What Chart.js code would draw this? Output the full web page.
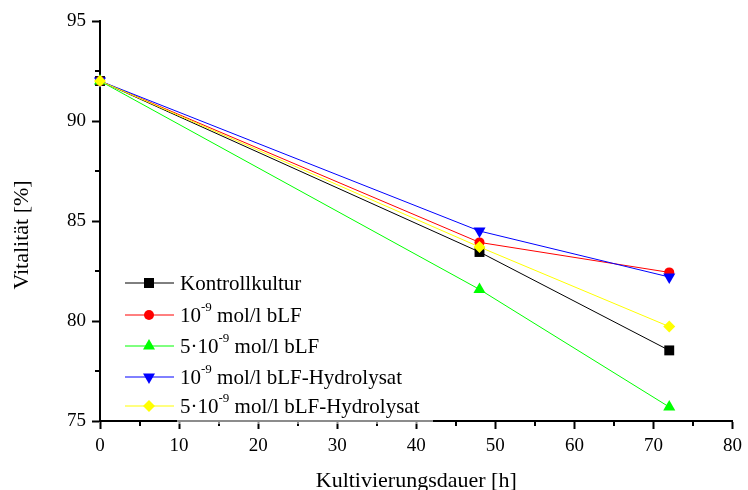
<!DOCTYPE html>
<html>
<head>
<meta charset="utf-8">
<script src="https://cdn.jsdelivr.net/npm/chart.js@4"></script>
<style>
  html, body { margin: 0; padding: 0; background: #fff; }
  #wrap { position: relative; width: 748px; height: 490px; }
  #legend { position: absolute; left: 0; top: 0; width: 748px; height: 490px; pointer-events: none;
    font-family: "Liberation Serif", "Times New Roman", serif; font-size: 21px; color: #000; }
  #legend .bg { position: absolute; left: 177px; top: 268px; width: 256px; height: 156px; background: rgba(255,255,255,0.55); }
  #legend .row { position: absolute; left: 125px; height: 24px; line-height: 24px; white-space: nowrap; }
  #legend svg { position: absolute; left: 0; top: 0; }
  #legend .txt { position: absolute; left: 55px; top: 0; }
  #legend sup { font-size: 13px; position: relative; top: -3px; vertical-align: top; line-height: 1; }
</style>
</head>
<body>
<div id="wrap">
  <canvas id="chart" width="748" height="490"></canvas>
  <div id="legend"><div class="bg"></div></div>
</div>
<script>
const hours = [0, 48, 72];
const kontroll = [92, 83.45, 78.53];
const blf = [92, 83.93, 82.43];
const blf5 = [92, 81.58, 75.7];
const hydro = [92, 84.5, 82.2];
const hydro5 = [92, 83.7, 79.72];

const xTicks = [0, 10, 20, 30, 40, 50, 60, 70, 80];
const xMinor = [5, 15, 25, 35, 45, 55, 65, 75];
const yTicks = [75, 80, 85, 90, 95];
const yMinor = [77.5, 82.5, 87.5, 92.5];

const serif = '"Liberation Serif", "Times New Roman", serif';

const series = [
  { name: 'Kontrollkultur', sup: null, data: kontroll, color: '#000000', style: 'rect', radius: 7, rotation: 0 },
  { name: ' mol/l bLF', pre: '10', sup: '-9', data: blf, color: '#ff0000', style: 'circle', radius: 5, rotation: 0 },
  { name: ' mol/l bLF', pre: '5\u00b710', sup: '-9', data: blf5, color: '#00ff00', style: 'triangle', radius: 7, rotation: 0 },
  { name: ' mol/l bLF-Hydrolysat', pre: '10', sup: '-9', data: hydro, color: '#0000ff', style: 'triangle', radius: 7, rotation: 180 },
  { name: ' mol/l bLF-Hydrolysat', pre: '5\u00b710', sup: '-9', data: hydro5, color: '#ffff00', style: 'rectRot', radius: 6, rotation: 0 }
];

// minor ticks and axis titles
const extras = {
  id: 'extras',
  afterDraw(chart) {
    const { ctx, chartArea, scales } = chart;
    ctx.save();
    ctx.strokeStyle = '#000';
    ctx.lineWidth = 2;
    ctx.beginPath();
    xMinor.forEach(v => {
      const px = Math.round(scales.x.getPixelForValue(v));
      ctx.moveTo(px, chartArea.bottom);
      ctx.lineTo(px, chartArea.bottom + 5);
    });
    yMinor.forEach(v => {
      const py = Math.round(scales.y.getPixelForValue(v));
      ctx.moveTo(chartArea.left, py);
      ctx.lineTo(chartArea.left - 5, py);
    });
    ctx.stroke();

    ctx.fillStyle = '#000';
    ctx.font = '22px ' + serif;
    ctx.textAlign = 'center';
    ctx.textBaseline = 'alphabetic';
    ctx.fillText('Kultivierungsdauer [h]', (chartArea.left + chartArea.right) / 2, 487);
    ctx.translate(28, 235);
    ctx.rotate(-Math.PI / 2);
    ctx.fillText('Vitalit\u00e4t [%]', 0, 0);
    ctx.restore();
  }
};

new Chart(document.getElementById('chart'), {
  type: 'line',
  data: {
    datasets: series.map((s, i) => ({
      label: (s.pre || '') + (s.sup || '') + s.name,
      data: hours.map((h, j) => ({ x: h, y: s.data[j] })),
      borderColor: s.color,
      backgroundColor: s.color,
      borderWidth: 1,
      pointStyle: s.style,
      pointRadius: s.radius,
      pointRotation: s.rotation,
      pointBorderWidth: 0,
      tension: 0,
      clip: false,
      order: series.length - i
    }))
  },
  plugins: [extras],
  options: {
    responsive: false,
    animation: false,
    layout: { padding: { top: 21, right: 11, left: 0, bottom: 0 } },
    plugins: { legend: { display: false }, tooltip: { enabled: false } },
    scales: {
      x: {
        type: 'linear',
        min: 0, max: 80,
        afterBuildTicks: s => { s.ticks = xTicks.map(v => ({ value: v })); },
        afterFit: s => { s.height = 69; },
        border: { color: '#000', width: 2 },
        grid: { drawOnChartArea: false, drawTicks: true, tickLength: 8, tickWidth: 2, tickColor: '#000' },
        ticks: { color: '#000', font: { family: serif, size: 19 }, padding: 6, maxRotation: 0 }
      },
      y: {
        type: 'linear',
        min: 75, max: 95,
        afterBuildTicks: s => { s.ticks = yTicks.map(v => ({ value: v })); },
        afterFit: s => { s.width = 100; },
        border: { color: '#000', width: 2 },
        grid: { drawOnChartArea: false, drawTicks: true, tickLength: 8, tickWidth: 2, tickColor: '#000' },
        ticks: { color: '#000', font: { family: serif, size: 19 }, padding: 6 }
      }
    }
  }
});

// legend with superscript exponents
const legend = document.getElementById('legend');
const rowTops = [271, 303, 334, 365, 394];
series.forEach((s, i) => {
  const row = document.createElement('div');
  row.className = 'row';
  row.style.top = rowTops[i] + 'px';
  let shape;
  const c = s.color;
  if (s.style === 'rect') shape = `<rect x="19" y="7" width="10" height="10" fill="${c}"/>`;
  else if (s.style === 'circle') shape = `<circle cx="24" cy="12" r="5" fill="${c}"/>`;
  else if (s.rotation === 180) shape = `<polygon points="18,8.5 30,8.5 24,19" fill="${c}"/>`;
  else if (s.style === 'triangle') shape = `<polygon points="18,15.5 30,15.5 24,5" fill="${c}"/>`;
  else shape = `<polygon points="24,6 30,12 24,18 18,12" fill="${c}"/>`;
  row.innerHTML = `<svg width="50" height="24"><line x1="0" y1="12" x2="49" y2="12" stroke="${c}" stroke-width="1"/>${shape}</svg>` +
    `<span class="txt">${s.pre || ''}${s.sup ? '<sup>' + s.sup + '</sup>' : ''}${s.name}</span>`;
  legend.appendChild(row);
});
</script>
</body>
</html>
